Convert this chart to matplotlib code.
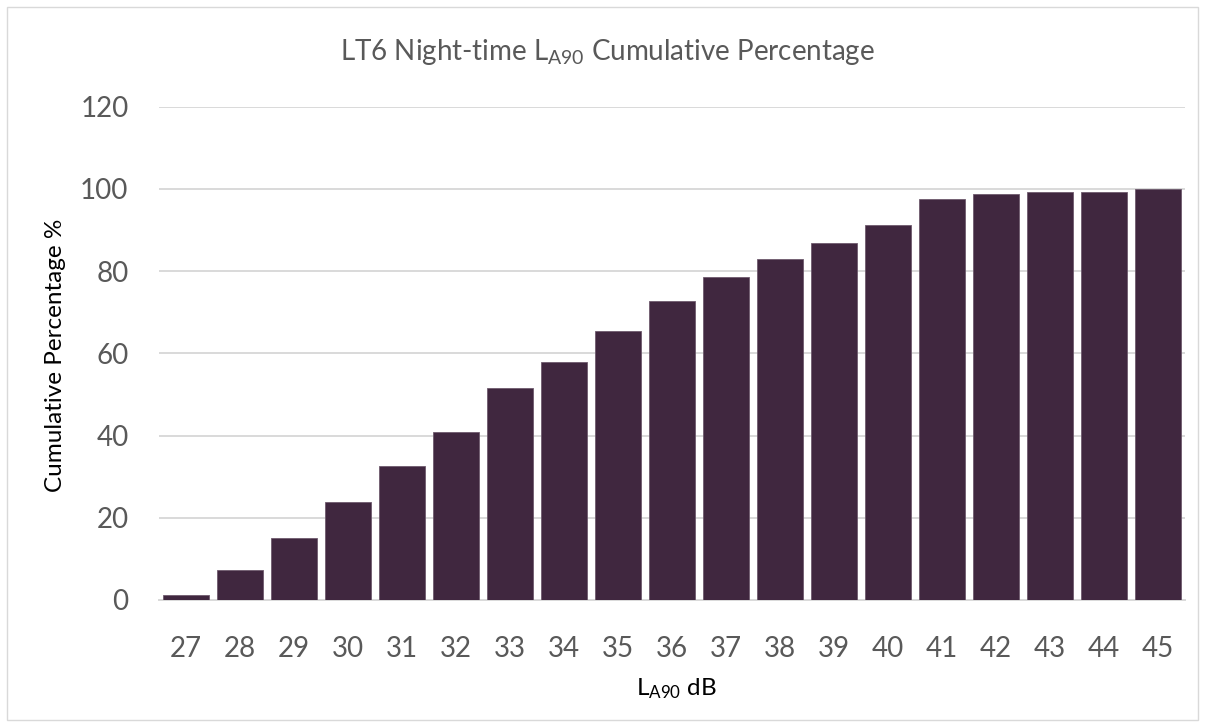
import matplotlib
matplotlib.use("Agg")
import matplotlib.pyplot as plt
from matplotlib.patches import Rectangle

levels = ["27", "28", "29", "30", "31", "32", "33", "34", "35", "36",
          "37", "38", "39", "40", "41", "42", "43", "44", "45"]
cum_pct = [1.3, 7.4, 15.0, 23.9, 32.6, 40.8, 51.5, 57.8, 65.3, 72.8,
           78.6, 83.0, 86.8, 91.2, 97.4, 98.7, 99.3, 99.3, 100.0]
y_ticks = [0, 20, 40, 60, 80, 100, 120]

plt.rcParams['font.family'] = ['Lato', 'DejaVu Sans']
plt.rcParams['mathtext.default'] = 'regular'

W, H = 1205, 727
fig = plt.figure(figsize=(W / 100, H / 100), dpi=100)
ax = fig.add_axes([159 / W, 1 - 600 / H, (1185 - 159) / W, (600 - 106.5) / H])

x = list(range(len(levels)))
ax.bar(x, cum_pct, width=0.84, color='#40273F', edgecolor='#6E5A6D', linewidth=0.6, zorder=3)
ax.set_xlim(-0.5, len(levels) - 0.5)
ax.set_ylim(0, 120)
ax.set_yticks(y_ticks)
ax.set_xticks(x)
ax.set_xticklabels(levels)
ax.grid(axis='y', color='#D9D9D9', linewidth=1.4, zorder=0)
for s in ['top', 'right', 'left']:
    ax.spines[s].set_visible(False)
ax.spines['bottom'].set_color('#D9D9D9')
ax.spines['bottom'].set_linewidth(1.4)
ax.tick_params(axis='both', length=0, labelsize=20, labelcolor='#595959')
ax.tick_params(axis='y', pad=22)
ax.tick_params(axis='x', pad=26)

fig.text(608 / W, 1 - 60 / H, r'LT6 Night-time L$_{A90}$ Cumulative Percentage',
         ha='center', va='baseline', fontsize=20, color='#595959')
fig.text(676 / W, 1 - 695 / H, r'L$_{A90}$ dB', ha='center', va='baseline',
         fontsize=17.5, color='black')
fig.text(56 / W, 1 - 355 / H, 'Cumulative Percentage %', ha='center', va='center',
         rotation=90, fontsize=17.5, color='black')

fig.patches.append(Rectangle((7 / W, 7 / H), (W - 14) / W, (H - 14) / H,
                             transform=fig.transFigure, fill=False,
                             edgecolor='#D9D9D9', linewidth=1.0))

fig.savefig('out.png', dpi=100, facecolor='white')
